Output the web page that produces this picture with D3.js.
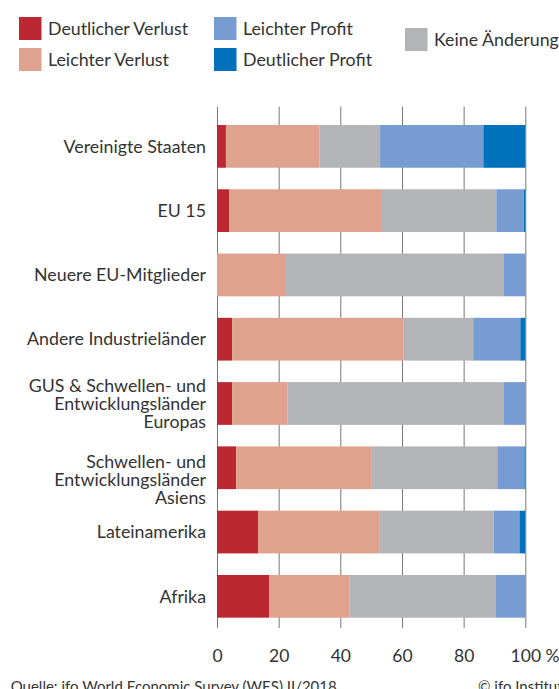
<!DOCTYPE html>
<html>
<head>
<meta charset="utf-8">
<script src="https://cdn.jsdelivr.net/npm/d3@7"></script>
<style>
  body { margin: 0; background: #fff; }
  svg text { font-family: Lato, "Noto Sans", sans-serif; fill: #333; }
</style>
</head>
<body>
<div id="chart"></div>
<script>
// data (shares in %)
const regions = ["Vereinigte Staaten", "EU 15", "Neuere EU-Mitglieder", "Andere Industrieländer",
  "GUS & Schwellen- und Entwicklungsländer Europas", "Schwellen- und Entwicklungsländer Asiens",
  "Lateinamerika", "Afrika"];
const regionLines = [
  ["Vereinigte Staaten"], ["EU 15"], ["Neuere EU-Mitglieder"], ["Andere Industrieländer"],
  ["GUS & Schwellen- und", "Entwicklungsländer", "Europas"],
  ["Schwellen- und", "Entwicklungsländer", "Asiens"],
  ["Lateinamerika"], ["Afrika"]];
const seriesNames = ["Deutlicher Verlust", "Leichter Verlust", "Keine Änderung", "Leichter Profit", "Deutlicher Profit"];
const deutlicherVerlust = [2.9, 3.9, 0, 4.9, 4.9, 6.2, 13.3, 16.9];
const leichterVerlust   = [30.4, 49.6, 22.4, 55.5, 17.9, 44.0, 39.3, 26.0];
const keineAenderung    = [19.6, 37.1, 70.5, 22.7, 70.1, 40.7, 37.2, 47.4];
const leichterProfit    = [33.5, 8.9, 7.1, 15.3, 7.1, 8.8, 8.3, 9.7];
const deutlicherProfit  = [13.6, 0.5, 0, 1.6, 0, 0.3, 1.9, 0];
const xTicks = [0, 20, 40, 60, 80, 100];
const colors = ["#bb2832", "#dea28f", "#b3b4b8", "#769cd2", "#0071bb"];

const width = 559, height = 689;
const svg = d3.select("#chart").append("svg")
    .attr("width", width)
    .attr("height", height);

const x = d3.scaleLinear().domain([0, 100]).range([217, 525.3]);
const y = d3.scaleBand().domain(regions).range([125, 617.7])
    .paddingInner(0.335).paddingOuter(0);

// gridlines + tick labels
const gridTop = 106.7, gridBottom = 628;
const xAxis = svg.append("g")
    .attr("transform", `translate(0,${gridBottom})`)
    .call(d3.axisBottom(x).tickValues(xTicks).tickSize(-(gridBottom - gridTop)).tickPadding(22));
xAxis.select(".domain").remove();
xAxis.selectAll(".tick line").attr("stroke", "#777");
xAxis.selectAll(".tick text").attr("font-size", 17.5).style("font-family", null);
// "100 %": keep the number centred on its tick
xAxis.selectAll(".tick text").filter(d => d === 100).each(function() {
  const t = d3.select(this);
  const w = this.getComputedTextLength();
  t.text("100 %").attr("text-anchor", "start").attr("x", -w / 2);
});

// stacked bars
const rows = regions.map((r, i) => ({
  region: r,
  "Deutlicher Verlust": deutlicherVerlust[i],
  "Leichter Verlust": leichterVerlust[i],
  "Keine Änderung": keineAenderung[i],
  "Leichter Profit": leichterProfit[i],
  "Deutlicher Profit": deutlicherProfit[i]
}));
const stacked = d3.stack().keys(seriesNames)(rows);

svg.append("g").selectAll("g")
  .data(stacked)
  .join("g")
    .attr("fill", (d, i) => colors[i])
  .selectAll("rect")
  .data(d => d)
  .join("rect")
    .attr("x", d => x(d[0]))
    .attr("y", d => y(d.data.region))
    .attr("width", d => x(d[1]) - x(d[0]))
    .attr("height", y.bandwidth());

// category labels
const lineH = 17.8;
const labelShift = { "Schwellen- und Entwicklungsländer Asiens": 12 };
const labels = svg.append("g").attr("font-size", 17.8).attr("text-anchor", "end");
regions.forEach((r, i) => {
  const lines = regionLines[i];
  const cy = y(r) + y.bandwidth() / 2 + (labelShift[r] || 0);
  const t = labels.append("text")
      .attr("x", 206)
      .attr("y", cy - (lines.length - 1) * lineH / 2)
      .attr("dy", "0.35em");
  lines.forEach((l, j) => {
    t.append("tspan").attr("x", 206).attr("dy", j === 0 ? "0.35em" : lineH).text(l);
  });
});

// legend
const legendPos = [[19, 17], [19, 48], [405, 28], [214, 17], [214, 48]];
const legend = svg.append("g").attr("font-size", 17.8);
seriesNames.forEach((name, i) => {
  const [lx, ly] = legendPos[i];
  legend.append("rect").attr("x", lx).attr("y", ly).attr("width", 22.5).attr("height", 23).attr("fill", colors[i]);
  legend.append("text").attr("x", lx + 29).attr("y", ly + 11.5).attr("dy", "0.35em").text(name);
});

// footer
svg.append("text").attr("x", 10.7).attr("y", 692).attr("font-size", 15)
    .text("Quelle: ifo World Economic Survey (WES) II/2018.");
svg.append("text").attr("x", 478).attr("y", 692).attr("font-size", 15)
    .text("© ifo Institut");
</script>
</body>
</html>
